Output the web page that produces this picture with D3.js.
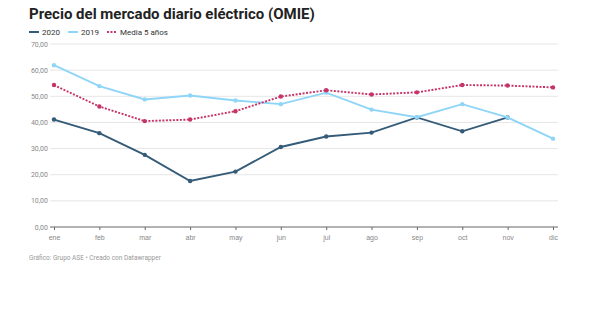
<!DOCTYPE html>
<html>
<head>
<meta charset="utf-8">
<title>Precio del mercado diario eléctrico (OMIE)</title>
<script src="https://cdn.jsdelivr.net/npm/d3@7"></script>
<style>
  body { margin: 0; background: #fff; font-family: Roboto, "Noto Sans", sans-serif; }
  .title { font-weight: 700; font-size: 15px; fill: #222; }
  .legend text { font-size: 8px; fill: #333; }
  .grid line { stroke: #e6e6e6; }
  .axis text { font-size: 7px; fill: #888; }
  .footer { font-size: 6.5px; fill: #999; }
</style>
</head>
<body>
<svg id="chart" width="600" height="332"></svg>
<script>
const months = ["ene", "feb", "mar", "abr", "may", "jun", "jul", "ago", "sep", "oct", "nov", "dic"];
const v2020 = [41.1, 35.9, 27.6, 17.6, 21.2, 30.6, 34.6, 36.1, 41.9, 36.6, 41.9, null];
const v2019 = [61.9, 53.9, 48.8, 50.3, 48.4, 47.0, 51.4, 44.9, 42.0, 47.0, 41.9, 33.8];
const vMedia = [54.3, 46.1, 40.5, 41.1, 44.3, 49.9, 52.3, 50.7, 51.5, 54.3, 54.1, 53.4];
const yTicks = [0, 10, 20, 30, 40, 50, 60, 70];

const series = [
  { name: "2020", values: v2020, color: "#345b78", dash: null },
  { name: "2019", values: v2019, color: "#8fd5f7", dash: null },
  { name: "Media 5 años", values: vMedia, color: "#c63369", dash: "2,1.5" }
];

const svg = d3.select("#chart");
const x = d3.scalePoint().domain(months).range([54, 553]);
const y = d3.scaleLinear().domain([0, 70]).range([227, 44]);
const fmt = d => d.toFixed(2).replace(".", ",");

svg.append("text").attr("class", "title").attr("x", 29).attr("y", 19)
  .text("Precio del mercado diario eléctrico (OMIE)");

// leyenda
const leg = svg.append("g").attr("class", "legend").attr("transform", "translate(29,32)");
let lx = 0;
series.forEach(s => {
  leg.append("line").attr("x1", lx).attr("x2", lx + 10).attr("y1", 0).attr("y2", 0)
    .attr("stroke", s.color).attr("stroke-width", 2)
    .attr("stroke-dasharray", s.dash ? "2,1.5" : null);
  const t = leg.append("text").attr("x", lx + 13).attr("y", 3).text(s.name);
  lx += 13 + t.node().getComputedTextLength() + 8;
});

// rejilla y eje y
const grid = svg.append("g").attr("class", "grid");
grid.selectAll("line").data(yTicks.filter(d => d > 0)).enter().append("line")
  .attr("x1", 50).attr("x2", 558)
  .attr("y1", d => y(d)).attr("y2", d => y(d));

svg.append("g").attr("class", "axis").selectAll("text").data(yTicks).enter().append("text")
  .attr("x", 48).attr("y", d => y(d) + 2.5).attr("text-anchor", "end").text(fmt);

// eje x
const xAxis = svg.append("g").attr("class", "axis x")
  .attr("transform", "translate(0,227)")
  .call(d3.axisBottom(x).tickSize(3).tickPadding(5));
xAxis.select(".domain").attr("d", "M50,0H558").attr("stroke", "#666");
xAxis.selectAll(".tick line").attr("stroke", "#666");
xAxis.selectAll(".tick text").attr("fill", "#888").style("font-size", "7px");

const line = d3.line().defined(d => d != null)
  .x((d, i) => x(months[i])).y(d => y(d));

series.forEach(s => {
  svg.append("path").datum(s.values)
    .attr("fill", "none").attr("stroke", s.color)
    .attr("stroke-width", 1.9)
    .attr("stroke-dasharray", s.dash)
    .attr("d", line);
  svg.append("g").selectAll("circle")
    .data(s.values.map((v, i) => ({ v, m: months[i] })).filter(d => d.v != null))
    .enter().append("circle")
    .attr("cx", d => x(d.m)).attr("cy", d => y(d.v)).attr("r", 2.2)
    .attr("fill", s.color);
});

svg.append("text").attr("class", "footer").attr("x", 29).attr("y", 260)
  .text("Gráfico: Grupo ASE • Creado con Datawrapper");
</script>
</body>
</html>
